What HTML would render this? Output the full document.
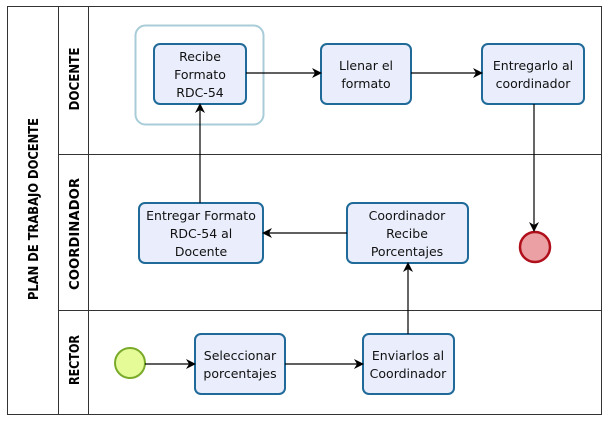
<!DOCTYPE html>
<html><head><style>body{margin:0;background:#fff}</style></head><body>
<svg width="608" height="423" xmlns="http://www.w3.org/2000/svg" font-family="DejaVu Sans, sans-serif">
<defs><marker id="a" markerWidth="10" markerHeight="10" refX="9" refY="5" orient="auto" markerUnits="userSpaceOnUse"><path d="M0,0 L10,5 L0,10 L3,5 Z" fill="#000"/></marker></defs>
<rect x="7.5" y="6.5" width="594" height="408" fill="#fff" stroke="#333"/>
<line x1="58.5" y1="6" x2="58.5" y2="414" stroke="#333"/>
<line x1="88.5" y1="6" x2="88.5" y2="414" stroke="#333"/>
<line x1="58" y1="154.5" x2="602" y2="154.5" stroke="#333"/>
<line x1="58" y1="310.5" x2="602" y2="310.5" stroke="#333"/>
<g font-weight="bold" font-size="13" text-anchor="middle">
<text transform="translate(38,209) rotate(-90)" textLength="182" lengthAdjust="spacingAndGlyphs">PLAN DE TRABAJO DOCENTE</text>
<text transform="translate(79,79) rotate(-90)" textLength="63" lengthAdjust="spacingAndGlyphs">DOCENTE</text>
<text transform="translate(79,234) rotate(-90)" textLength="112" lengthAdjust="spacingAndGlyphs">COORDINADOR</text>
<text transform="translate(79,360) rotate(-90)" textLength="50" lengthAdjust="spacingAndGlyphs">RECTOR</text>
</g>
<rect x="135.5" y="25.5" width="128" height="99" rx="10" fill="none" stroke="#a8cdd8" stroke-width="2"/>
<g fill="#eaeefc" stroke="#1f6a98" stroke-width="2">
<rect x="154" y="44" width="92" height="60" rx="6"/>
<rect x="321" y="44" width="90" height="60" rx="6"/>
<rect x="482" y="44" width="102" height="60" rx="6"/>
<rect x="139" y="203" width="124" height="60" rx="6"/>
<rect x="347" y="203" width="121" height="60" rx="6"/>
<rect x="195" y="334" width="90" height="60" rx="6"/>
<rect x="363" y="334" width="91" height="60" rx="6"/>
</g>
<circle cx="535" cy="247" r="15" fill="#eba0a3" stroke="#b0101b" stroke-width="2.5"/>
<circle cx="130" cy="363" r="15" fill="#e4fb98" stroke="#7aaa2a" stroke-width="2"/>
<g stroke="#000" stroke-width="1.2" fill="none" marker-end="url(#a)">
<line x1="246" y1="73" x2="321" y2="73"/>
<line x1="411" y1="73" x2="482" y2="73"/>
<line x1="534" y1="104" x2="534" y2="231"/>
<line x1="347" y1="233" x2="263" y2="233"/>
<line x1="200" y1="203" x2="200" y2="104"/>
<line x1="145" y1="364" x2="195" y2="364"/>
<line x1="285" y1="364" x2="363" y2="364"/>
<line x1="408" y1="334" x2="408" y2="263"/>
</g>
<g text-anchor="middle" fill="#111" style="font-size:12.5px">
<text x="200" y="61">Recibe</text><text x="200" y="79">Formato</text><text x="200" y="97">RDC-54</text>
<text x="366" y="70">Llenar el</text><text x="366" y="88">formato</text>
<text x="533" y="70">Entregarlo al</text><text x="533" y="88">coordinador</text>
<text x="201" y="220">Entregar Formato</text><text x="201" y="238">RDC-54 al</text><text x="201" y="256">Docente</text>
<text x="407" y="220">Coordinador</text><text x="407" y="238">Recibe</text><text x="407" y="256">Porcentajes</text>
<text x="240" y="360">Seleccionar</text><text x="240" y="378">porcentajes</text>
<text x="408" y="360">Enviarlos al</text><text x="408" y="378">Coordinador</text>
</g>
</svg>
</body></html>
